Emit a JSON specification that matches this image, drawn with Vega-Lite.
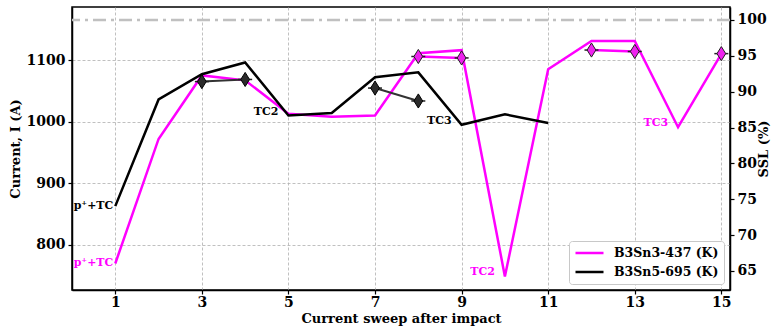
{
  "$schema": "https://vega.github.io/schema/vega-lite/v6.json",
  "width": 658,
  "height": 283,
  "autosize": {"type": "none"},
  "padding": {"left": 72, "top": 7, "right": 52, "bottom": 39},
  "background": "white",
  "config": {
    "font": "DejaVu Serif",
    "view": {"stroke": "black", "strokeWidth": 1.5},
    "axis": {
      "labelFont": "DejaVu Serif", "labelFontWeight": "bold", "labelFontSize": 14, "labelColor": "black",
      "titleFont": "DejaVu Serif", "titleFontWeight": "bold", "titleFontSize": 13, "titleColor": "black",
      "domainColor": "black", "domainWidth": 1.5, "tickColor": "black", "tickWidth": 1.2, "tickSize": 4,
      "gridColor": "#b0b0b0", "gridDash": [3, 2], "gridWidth": 0.8, "gridOpacity": 1
    },
    "legend": {
      "orient": "bottom-right", "offset": 6, "padding": 5, "rowPadding": 5,
      "labelFont": "DejaVu Serif", "labelFontWeight": "bold", "labelFontSize": 12.5, "labelColor": "black",
      "symbolType": "stroke", "symbolSize": 784, "symbolStrokeWidth": 2.5, "labelOffset": 9, "clipHeight": 14,
      "fillColor": "white", "strokeColor": "#c8c8c8", "cornerRadius": 3
    }
  },
  "datasets": {
    "current": [
      {"sweep": 1, "current": 770, "series": "B3Sn3-437 (K)"},
      {"sweep": 2, "current": 972, "series": "B3Sn3-437 (K)"},
      {"sweep": 3, "current": 1075, "series": "B3Sn3-437 (K)"},
      {"sweep": 4, "current": 1067, "series": "B3Sn3-437 (K)"},
      {"sweep": 5, "current": 1013, "series": "B3Sn3-437 (K)"},
      {"sweep": 6, "current": 1008, "series": "B3Sn3-437 (K)"},
      {"sweep": 7, "current": 1010, "series": "B3Sn3-437 (K)"},
      {"sweep": 8, "current": 1111, "series": "B3Sn3-437 (K)"},
      {"sweep": 9, "current": 1116, "series": "B3Sn3-437 (K)"},
      {"sweep": 10, "current": 749, "series": "B3Sn3-437 (K)"},
      {"sweep": 11, "current": 1085, "series": "B3Sn3-437 (K)"},
      {"sweep": 12, "current": 1131, "series": "B3Sn3-437 (K)"},
      {"sweep": 13, "current": 1131, "series": "B3Sn3-437 (K)"},
      {"sweep": 14, "current": 991, "series": "B3Sn3-437 (K)"},
      {"sweep": 15, "current": 1110, "series": "B3Sn3-437 (K)"},
      {"sweep": 1, "current": 863, "series": "B3Sn5-695 (K)"},
      {"sweep": 2, "current": 1036, "series": "B3Sn5-695 (K)"},
      {"sweep": 3, "current": 1077, "series": "B3Sn5-695 (K)"},
      {"sweep": 4, "current": 1096, "series": "B3Sn5-695 (K)"},
      {"sweep": 5, "current": 1010, "series": "B3Sn5-695 (K)"},
      {"sweep": 6, "current": 1014, "series": "B3Sn5-695 (K)"},
      {"sweep": 7, "current": 1072, "series": "B3Sn5-695 (K)"},
      {"sweep": 8, "current": 1080, "series": "B3Sn5-695 (K)"},
      {"sweep": 9, "current": 995, "series": "B3Sn5-695 (K)"},
      {"sweep": 10, "current": 1012, "series": "B3Sn5-695 (K)"},
      {"sweep": 11, "current": 998, "series": "B3Sn5-695 (K)"}
    ],
    "labels": [
      {"sweep": 1, "current": 770, "series": "B3Sn3-437 (K)", "label": "p⁺+TC", "kind": "start"},
      {"sweep": 1, "current": 863, "series": "B3Sn5-695 (K)", "label": "p⁺+TC", "kind": "start"},
      {"sweep": 5, "current": 1010, "series": "B3Sn5-695 (K)", "label": "TC2", "kind": "tc"},
      {"sweep": 9, "current": 995, "series": "B3Sn5-695 (K)", "label": "TC3", "kind": "tc"},
      {"sweep": 10, "current": 749, "series": "B3Sn3-437 (K)", "label": "TC2", "kind": "tc"},
      {"sweep": 14, "current": 991, "series": "B3Sn3-437 (K)", "label": "TC3", "kind": "tc"}
    ],
    "ssl": [
      {"sweep": 3, "ssl": 91.4, "series": "B3Sn5-695 (K)", "seg": "a"},
      {"sweep": 4, "ssl": 91.7, "series": "B3Sn5-695 (K)", "seg": "a"},
      {"sweep": 7, "ssl": 90.5, "series": "B3Sn5-695 (K)", "seg": "b"},
      {"sweep": 8, "ssl": 88.7, "series": "B3Sn5-695 (K)", "seg": "b"},
      {"sweep": 8, "ssl": 94.9, "series": "B3Sn3-437 (K)", "seg": "c"},
      {"sweep": 9, "ssl": 94.7, "series": "B3Sn3-437 (K)", "seg": "c"},
      {"sweep": 12, "ssl": 95.8, "series": "B3Sn3-437 (K)", "seg": "d"},
      {"sweep": 13, "ssl": 95.6, "series": "B3Sn3-437 (K)", "seg": "d"},
      {"sweep": 15, "ssl": 95.3, "series": "B3Sn3-437 (K)", "seg": "e"}
    ],
    "ref": [{"ssl": 100}]
  },
  "layer": [
    {
      "layer": [
        {
          "data": {"name": "current"},
          "mark": {"type": "line", "strokeWidth": 2.5},
          "encoding": {
            "x": {"field": "sweep", "type": "quantitative", "title": "Current sweep after impact",
                  "scale": {"domain": [0, 15.2], "nice": false, "zero": false},
                  "axis": {"values": [1, 3, 5, 7, 9, 11, 13, 15], "grid": true, "labelPadding": 1, "titlePadding": 3, "labelFlush": false, "format": "d"}},
            "y": {"field": "current", "type": "quantitative", "title": "Current, I (A)",
                  "scale": {"domain": [727, 1186], "nice": false, "zero": false},
                  "axis": {"values": [800, 900, 1000, 1100], "grid": true, "labelPadding": 3, "titlePadding": 4, "format": "d"}},
            "color": {"field": "series", "type": "nominal", "title": null,
                      "scale": {"domain": ["B3Sn3-437 (K)", "B3Sn5-695 (K)"], "range": ["#ff00ff", "#000000"]}},
            "order": {"field": "sweep"}
          }
        },
        {
          "data": {"name": "labels"},
          "transform": [{"filter": "datum.kind == 'start' && datum.series == 'B3Sn3-437 (K)'"}],
          "mark": {"type": "text", "align": "right", "baseline": "middle", "dx": -2, "fontSize": 11, "fontWeight": "bold", "font": "DejaVu Serif", "color": "#ff00ff"},
          "encoding": {"x": {"field": "sweep", "type": "quantitative"}, "y": {"field": "current", "type": "quantitative"}, "text": {"field": "label"}}
        },
        {
          "data": {"name": "labels"},
          "transform": [{"filter": "datum.kind == 'start' && datum.series == 'B3Sn5-695 (K)'"}],
          "mark": {"type": "text", "align": "right", "baseline": "middle", "dx": -2, "fontSize": 11, "fontWeight": "bold", "font": "DejaVu Serif", "color": "black"},
          "encoding": {"x": {"field": "sweep", "type": "quantitative"}, "y": {"field": "current", "type": "quantitative"}, "text": {"field": "label"}}
        },
        {
          "data": {"name": "labels"},
          "transform": [{"filter": "datum.kind == 'tc' && datum.series == 'B3Sn3-437 (K)'"}],
          "mark": {"type": "text", "align": "right", "baseline": "middle", "dx": -10, "dy": -4, "fontSize": 11, "fontWeight": "bold", "font": "DejaVu Serif", "color": "#ff00ff"},
          "encoding": {"x": {"field": "sweep", "type": "quantitative"}, "y": {"field": "current", "type": "quantitative"}, "text": {"field": "label"}}
        },
        {
          "data": {"name": "labels"},
          "transform": [{"filter": "datum.kind == 'tc' && datum.series == 'B3Sn5-695 (K)'"}],
          "mark": {"type": "text", "align": "right", "baseline": "middle", "dx": -10, "dy": -4, "fontSize": 11, "fontWeight": "bold", "font": "DejaVu Serif", "color": "black"},
          "encoding": {"x": {"field": "sweep", "type": "quantitative"}, "y": {"field": "current", "type": "quantitative"}, "text": {"field": "label"}}
        }
      ]
    },
    {
      "layer": [
        {
          "data": {"name": "ref"},
          "mark": {"type": "rule", "color": "#c0c0c0", "strokeWidth": 2.5, "strokeDash": [13, 5, 3, 5]},
          "encoding": {
            "y": {"field": "ssl", "type": "quantitative", "title": "SSL (%)",
                  "scale": {"domain": [62.35, 101.8], "nice": false, "zero": false},
                  "axis": {"orient": "right", "values": [65, 70, 75, 80, 85, 90, 95, 100], "grid": false, "labelPadding": 3, "titlePadding": 4, "titleAngle": 270, "format": "d"}}
          }
        },
        {
          "data": {"name": "ssl"},
          "transform": [{"filter": "datum.series == 'B3Sn5-695 (K)'"}],
          "mark": {"type": "line", "color": "#333333", "strokeWidth": 2},
          "encoding": {
            "x": {"field": "sweep", "type": "quantitative"},
            "y": {"field": "ssl", "type": "quantitative"},
            "detail": {"field": "seg"}
          }
        },
        {
          "data": {"name": "ssl"},
          "transform": [{"filter": "datum.series == 'B3Sn3-437 (K)'"}],
          "mark": {"type": "line", "color": "#ff00ff", "strokeWidth": 2.5},
          "encoding": {
            "x": {"field": "sweep", "type": "quantitative"},
            "y": {"field": "ssl", "type": "quantitative"},
            "detail": {"field": "seg"}
          }
        },
        {
          "data": {"name": "ssl"},
          "mark": {"type": "tick", "orient": "horizontal", "size": 14, "thickness": 1.5, "color": "#222222", "opacity": 1},
          "encoding": {
            "x": {"field": "sweep", "type": "quantitative"},
            "y": {"field": "ssl", "type": "quantitative"}
          }
        },
        {
          "data": {"name": "ssl"},
          "transform": [{"filter": "datum.series == 'B3Sn5-695 (K)'"}],
          "mark": {"type": "point", "shape": "M0,-1L0.62,0L0,1L-0.62,0Z", "size": 200, "filled": true, "fill": "#2b2b2b", "stroke": "#000000", "strokeWidth": 1, "opacity": 1},
          "encoding": {
            "x": {"field": "sweep", "type": "quantitative"},
            "y": {"field": "ssl", "type": "quantitative"}
          }
        },
        {
          "data": {"name": "ssl"},
          "transform": [{"filter": "datum.series == 'B3Sn3-437 (K)'"}],
          "mark": {"type": "point", "shape": "M0,-1L0.62,0L0,1L-0.62,0Z", "size": 200, "filled": true, "fill": "#ee22ee", "stroke": "#222222", "strokeWidth": 1, "opacity": 1},
          "encoding": {
            "x": {"field": "sweep", "type": "quantitative"},
            "y": {"field": "ssl", "type": "quantitative"}
          }
        }
      ]
    }
  ],
  "resolve": {"scale": {"y": "independent"}}
}
